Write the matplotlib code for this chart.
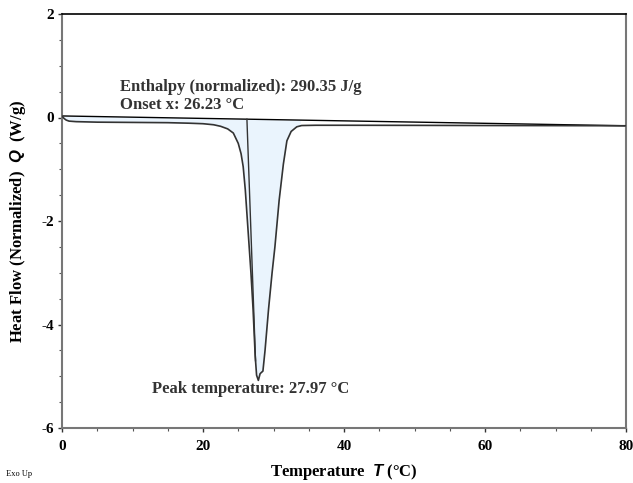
import matplotlib
matplotlib.use("Agg")
import matplotlib.pyplot as plt
import numpy as np
from matplotlib.ticker import MultipleLocator

plt.rcParams['mathtext.fontset'] = 'custom'
plt.rcParams['mathtext.it'] = 'Liberation Sans:italic:bold'
plt.rcParams['mathtext.rm'] = 'Liberation Serif:bold'

# Measured DSC curve (temperature in °C, normalized heat flow in W/g)
temperature = [0.0, 0.3, 0.6, 1.0, 2.0, 5.0, 10.0, 15.0, 18.0, 20.0, 21.5, 22.5, 23.5, 24.3, 25.0,
               25.4, 25.7, 26.0, 26.4, 26.8, 27.1, 27.4, 27.6, 27.85, 28.1, 28.5, 28.8, 29.3,
               29.8, 30.2, 30.8, 31.4, 31.9, 32.5, 33.3, 34.0, 36.0, 40.0,
               50.0, 60.0, 70.0, 80.0]
heat_flow = [0.03, -0.02, -0.05, -0.07, -0.08, -0.09, -0.095, -0.10, -0.11, -0.12, -0.14, -0.17,
             -0.22, -0.3, -0.5, -0.7, -0.95, -1.4, -2.2, -3.0, -3.7, -4.6, -4.98, -5.08, -4.95,
             -4.9, -4.5, -3.7, -3.0, -2.5, -1.6, -0.9, -0.45, -0.27, -0.18, -0.155, -0.15, -0.15,
             -0.152, -0.155, -0.157, -0.16]

# Integration baseline end points
baseline_x = [0.0, 80.0]
baseline_y = [0.03, -0.16]
fill_end = 33.8

onset_x = 26.23

enthalpy_text = "Enthalpy (normalized): 290.35 J/g"
onset_text = "Onset x: 26.23 °C"
peak_text = "Peak temperature: 27.97 °C"

fig = plt.figure(figsize=(6.33, 4.83), dpi=100)
ax = fig.add_axes([62/633, 1-428/483, (626-62)/633, (428-14)/483])

T = np.array(temperature)
H = np.array(heat_flow)
Tf = np.linspace(0, fill_end, 800)
Hf = np.interp(Tf, T, H)
Bf = np.interp(Tf, baseline_x, baseline_y)
ax.fill_between(Tf, Bf, Hf, color='#eaf4fd', lw=0, zorder=1)

ax.plot(baseline_x, baseline_y, color='black', lw=1.0, zorder=2)
ax.plot(T, H, color='#333333', lw=1.2, zorder=3)
onset_base = np.interp(onset_x, baseline_x, baseline_y)
ax.plot([onset_x, 27.45], [onset_base, -4.7], color='#333333', lw=1.0, zorder=3)

ax.set_xlim(0, 80)
ax.set_ylim(-6, 2)
ax.xaxis.set_major_locator(MultipleLocator(20))
ax.xaxis.set_minor_locator(MultipleLocator(5))
ax.yaxis.set_major_locator(MultipleLocator(2))
ax.yaxis.set_minor_locator(MultipleLocator(0.5))
ax.tick_params(which='major', direction='out', length=3, width=1, colors='#333333')
ax.tick_params(which='minor', direction='out', length=2, width=0.8, colors='#555555')
ax.xaxis.set_major_formatter(plt.FuncFormatter(lambda v, p: f"{v:g}"))
ax.yaxis.set_major_formatter(plt.FuncFormatter(lambda v, p: f"{v:g}"))
for lab in ax.get_xticklabels() + ax.get_yticklabels():
    lab.set_fontfamily('Liberation Serif')
    lab.set_fontweight('bold')
    lab.set_fontsize(11)
    lab.set_color('black')
ax.tick_params(axis='x', pad=6)
ax.tick_params(axis='y', pad=3)

for s in ['left', 'bottom', 'right']:
    ax.spines[s].set_color('#777777')
    ax.spines[s].set_linewidth(1.5)
ax.spines['top'].set_color('black')
ax.spines['top'].set_linewidth(1.2)

ax.set_xlabel("Temperature  $T$ (°C)", fontfamily='Liberation Serif', fontweight='bold',
              fontsize=12)
ax.xaxis.set_label_coords(0.5, -(472-428)/414, transform=ax.transAxes)
ax.set_ylabel("Heat Flow (Normalized)  $Q$  (W/g)", fontfamily='Liberation Serif',
              fontweight='bold', fontsize=12)
ax.yaxis.set_label_coords(-(62-18)/564, 0.5, transform=ax.transAxes)
ax.xaxis.label.set_va('center')
ax.yaxis.label.set_va('center')

tfont = dict(fontfamily='Liberation Serif', fontweight='bold', fontsize=12, color='#333333')
ax.text(8.2, 0.58, enthalpy_text, va='center', ha='left', **tfont)
ax.text(8.2, 0.25, onset_text, va='center', ha='left', **tfont)
ax.text(12.8, -5.25, peak_text, va='center', ha='left', **tfont)

fig.text(6/633, 1-474/483, "Exo Up", fontfamily='Liberation Serif', fontsize=6, va='center')

fig.savefig("out.png", dpi=100)
